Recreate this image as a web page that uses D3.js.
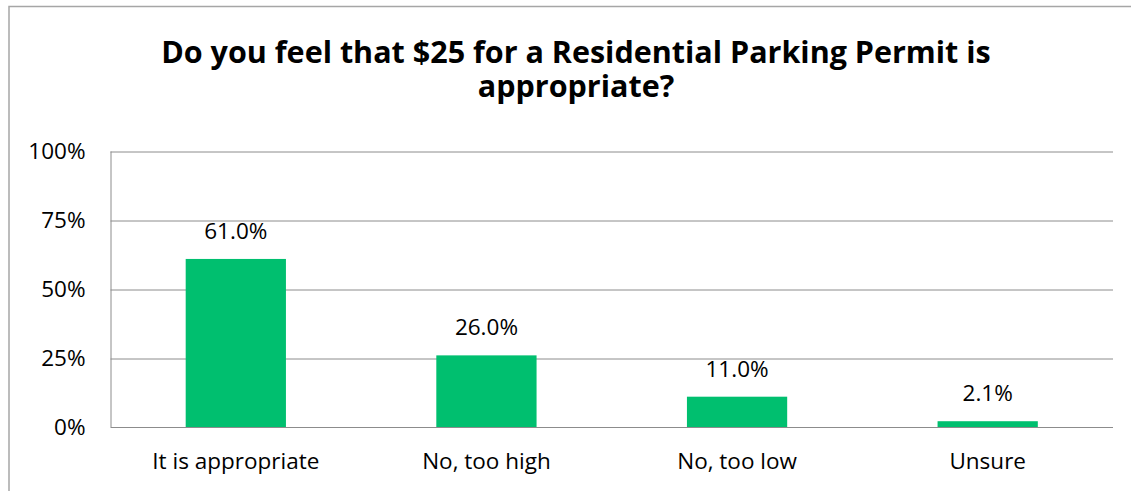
<!DOCTYPE html>
<html>
<head>
<meta charset="utf-8">
<script src="https://cdn.jsdelivr.net/npm/d3@7"></script>
<style>
  html, body { margin: 0; padding: 0; background: #fff; }
  svg { display: block; }
  text { font-family: "Open Sans", "Liberation Sans", sans-serif; fill: #000; }
</style>
</head>
<body>
<svg id="chart" width="1131" height="491"></svg>
<script>
const titleLines = ["Do you feel that $25 for a Residential Parking Permit is", "appropriate?"];
const categories = ["It is appropriate", "No, too high", "No, too low", "Unsure"];
const values = [61.0, 26.0, 11.0, 2.1];
const yTicks = [0, 25, 50, 75, 100];
const yTickLabels = ["0%", "25%", "50%", "75%", "100%"];

const svg = d3.select("#chart");
const W = 1131, H = 491;
const margin = { left: 110.5, right: 18, top: 151.5, bottom: 64 };
const plotW = W - margin.left - margin.right;
const plotH = H - margin.top - margin.bottom;

// chart outer border
svg.append("rect")
  .attr("x", 9).attr("y", 6.5)
  .attr("width", W + 20).attr("height", H + 20)
  .attr("fill", "none").attr("stroke", "#a6a6a6").attr("stroke-width", 1.5);

// title (two lines)
svg.selectAll("text.title").data(titleLines).join("text")
  .attr("class", "title")
  .attr("x", 576).attr("y", (d, i) => 63 + i * 34)
  .attr("text-anchor", "middle")
  .style("font-weight", "bold").style("font-size", "30.5px")
  .text(d => d);

const g = svg.append("g").attr("transform", `translate(${margin.left},${margin.top})`);

const x = d3.scaleBand().domain(categories).range([0, plotW]).paddingInner(0.6).paddingOuter(0.3);
const y = d3.scaleLinear().domain([0, 100]).range([plotH, 0]);

// gridlines
g.append("g").selectAll("line").data(yTicks.filter(t => t > 0)).join("line")
  .attr("x1", 0).attr("x2", plotW)
  .attr("y1", d => Math.round(y(d)) + 0.5).attr("y2", d => Math.round(y(d)) + 0.5)
  .attr("stroke", "#8c8c8c").attr("stroke-width", 1);

// y axis labels
const yAxis = d3.axisLeft(y).tickValues(yTicks).tickSize(0).tickPadding(25)
  .tickFormat((d, i) => yTickLabels[i]);
const ya = g.append("g").call(yAxis);
ya.select(".domain").remove();
ya.selectAll("text").style("font-size", "22.5px").style("font-family", "'Open Sans', sans-serif").attr("fill", "#000");

// bars
g.selectAll("rect.bar").data(values).join("rect")
  .attr("class", "bar")
  .attr("x", (d, i) => x(categories[i]))
  .attr("width", x.bandwidth())
  .attr("y", d => y(d))
  .attr("height", d => plotH - y(d))
  .attr("fill", "#00bf6f");

// axes lines
g.append("line").attr("x1", 0).attr("x2", plotW)
  .attr("y1", plotH + 0.5).attr("y2", plotH + 0.5)
  .attr("stroke", "#8c8c8c").attr("stroke-width", 1);
g.append("line").attr("x1", 0.5).attr("x2", 0.5)
  .attr("y1", 0).attr("y2", plotH)
  .attr("stroke", "#8c8c8c").attr("stroke-width", 1);

// data labels
g.selectAll("text.val").data(values).join("text")
  .attr("class", "val")
  .attr("x", (d, i) => x(categories[i]) + x.bandwidth() / 2)
  .attr("y", d => y(d) - 20)
  .attr("text-anchor", "middle")
  .style("font-size", "22.5px")
  .text(d => d.toFixed(1) + "%");

// x axis labels
const xAxis = d3.axisBottom(x).tickSize(0).tickPadding(0);
const xa = g.append("g").attr("transform", `translate(0,${plotH})`).call(xAxis);
xa.select(".domain").remove();
xa.selectAll("text").attr("dy", null).attr("y", 42)
  .style("font-size", "22.5px").style("font-family", "'Open Sans', sans-serif").attr("fill", "#000");
</script>
</body>
</html>
